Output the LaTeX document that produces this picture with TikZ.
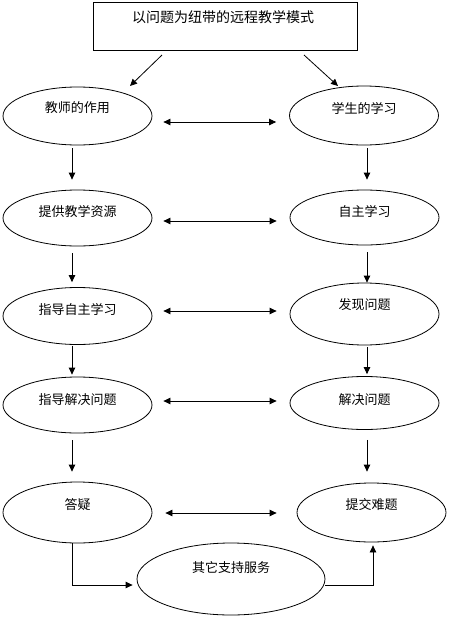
\documentclass[tikz,border=0pt]{standalone}
\usepackage{fontspec}
\newfontfamily\cjk{Noto Sans CJK SC}
\usetikzlibrary{shapes.geometric,arrows.meta,calc}
\begin{document}
\begin{tikzpicture}[x=1pt,y=-1pt,
  ell/.style={draw,ellipse,line width=0.8pt,inner sep=0pt,minimum width=149pt},
  lab/.style={font=\cjk\fontsize{13pt}{13pt}\selectfont},
  arr/.style={line width=0.8pt,-{Triangle[length=7pt,width=6.5pt]}},
  darr/.style={line width=0.8pt,{Triangle[length=7pt,width=6.5pt]}-{Triangle[length=7pt,width=6.5pt]}}]
\useasboundingbox (0,0) rectangle (448,619);
\fill[white] (0,0) rectangle (448,619);
% top box
\node[draw,line width=0.8pt,minimum width=264pt,minimum height=48pt,inner sep=0pt,
  label={[lab,font=\cjk\fontsize{14pt}{14pt}\selectfont,yshift=9pt,xshift=-2pt]center:以问题为纽带的远程教学模式}] (box) at (225,26) {};
% ellipses
\node[ell,minimum height=58pt,label={[lab,yshift=8pt]center:教师的作用}] (L1) at (77.5,116) {};
\node[ell,minimum height=59pt,label={[lab,yshift=7.5pt]center:学生的学习}] (R1) at (364,115.5) {};
\node[ell,minimum height=56pt,label={[lab,yshift=6pt]center:提供教学资源}] (L2) at (77.5,218) {};
\node[ell,minimum height=55pt,label={[lab,yshift=5.5pt]center:自主学习}] (R2) at (364.5,217.5) {};
\node[ell,minimum height=57pt,label={[lab,yshift=6pt]center:指导自主学习}] (L3) at (77.5,316) {};
\node[ell,minimum height=62pt,label={[lab,yshift=9pt]center:发现问题}] (R3) at (364.5,314) {};
\node[ell,minimum height=56pt,label={[lab,yshift=5pt]center:指导解决问题}] (L4) at (77.5,405) {};
\node[ell,minimum height=53pt,label={[lab,yshift=3pt]center:解决问题}] (R4) at (364.5,403) {};
\node[ell,minimum height=61pt,label={[lab,yshift=7.5pt]center:答疑}] (L5) at (77.5,512.5) {};
\node[ell,minimum height=59pt,label={[lab,yshift=7.5pt]center:提交难题}] (R5) at (371.5,512.5) {};
\node[ell,minimum width=188pt,minimum height=72pt,label={[lab,yshift=11pt]center:其它支持服务}] (O) at (231,579) {};
% helper coordinates
\coordinate (lx) at (72,0);
\coordinate (rx) at (367,0);
\coordinate (a1s) at (162,55);
\coordinate (a1e) at (130,86);
\coordinate (a2s) at (304,55);
\coordinate (a2e) at (338,86);
\coordinate (d1) at (0,122);
\coordinate (d2) at (0,221);
\coordinate (d3) at (0,311);
\coordinate (d4) at (0,401);
\coordinate (d5) at (0,513);
\coordinate (bl) at (0,585);
\coordinate (bx) at (373,0);
% top arrows
\draw[arr] (a1s) -- (a1e);
\draw[arr] (a2s) -- (a2e);
% left vertical arrows
\draw[arr,shorten <=3pt,shorten >=10pt] (L1.south -| lx) -- (L2.north -| lx);
\draw[arr,shorten <=7pt,shorten >=5pt] (L2.south -| lx) -- (L3.north -| lx);
\draw[arr,shorten <=1pt,shorten >=2pt] (L3.south -| lx) -- (L4.north -| lx);
\draw[arr,shorten <=7pt,shorten >=10pt] (L4.south -| lx) -- (L5.north -| lx);
% right vertical arrows
\draw[arr,shorten <=3pt,shorten >=10pt] (R1.south -| rx) -- (R2.north -| rx);
\draw[arr,shorten <=7pt,shorten >=0pt] (R2.south -| rx) -- (R3.north -| rx);
\draw[arr,shorten <=2pt,shorten >=2pt] (R3.south -| rx) -- (R4.north -| rx);
\draw[arr,shorten <=10pt,shorten >=11pt] (R4.south -| rx) -- (R5.north -| rx);
% double arrows
\draw[darr,shorten <=11pt,shorten >=13pt] (L1.east |- d1) -- (R1.west |- d1);
\draw[darr,shorten <=11pt,shorten >=13pt] (L2.east |- d2) -- (R2.west |- d2);
\draw[darr,shorten <=11pt,shorten >=13pt] (L3.east |- d3) -- (R3.west |- d3);
\draw[darr,shorten <=11pt,shorten >=13pt] (L4.east |- d4) -- (R4.west |- d4);
\draw[darr,shorten <=13pt,shorten >=20pt] (L5.east |- d5) -- (R5.west |- d5);
% bottom connectors
\draw[arr,shorten >=4pt] (L5.south -| lx) |- (O.west |- bl);
\draw[arr,shorten >=3pt] (O.east |- bl) -| (R5.south -| bx);
\end{tikzpicture}
\end{document}
